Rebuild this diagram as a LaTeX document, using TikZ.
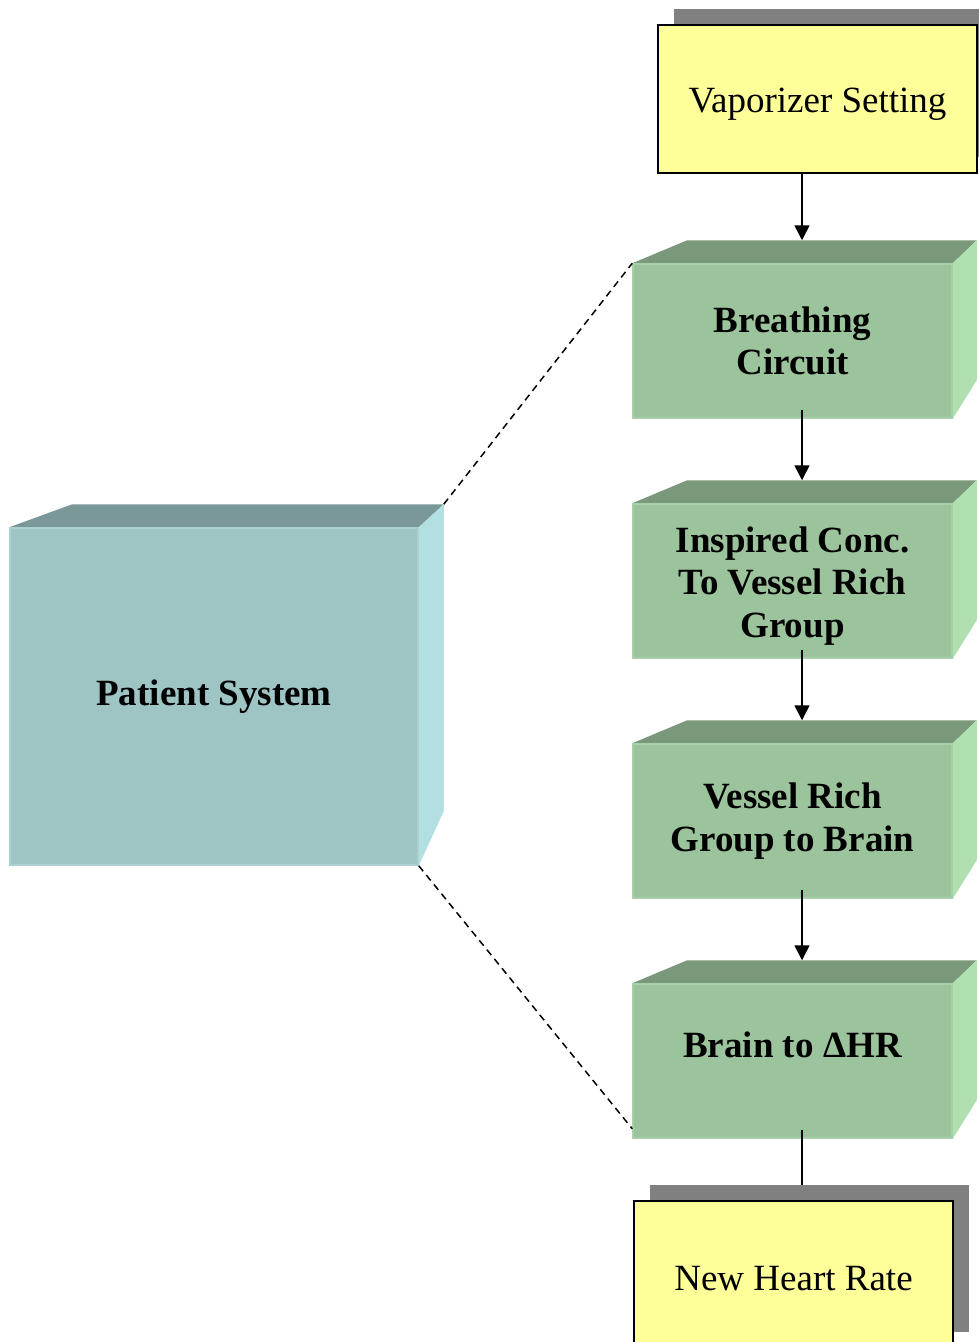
\documentclass[tikz,border=0pt]{standalone}
\usepackage{fontspec}
\setmainfont{Liberation Serif}
\usetikzlibrary{arrows.meta,shadows,backgrounds}
\definecolor{gfront}{RGB}{156,196,156}
\definecolor{gborder}{RGB}{168,208,168}
\definecolor{gtop}{RGB}{122,152,122}
\definecolor{gright}{RGB}{176,224,176}
\definecolor{pfront}{RGB}{158,196,196}
\definecolor{pborder}{RGB}{170,208,208}
\definecolor{ptop}{RGB}{122,152,152}
\definecolor{pright}{RGB}{178,224,226}
\definecolor{yel}{RGB}{255,255,153}
\definecolor{shadowgray}{RGB}{128,128,128}
\begin{document}
\begin{tikzpicture}[x=1pt,y=-1pt,
  gfrontbox/.style={rectangle, fill=gfront, draw=gborder, line width=1.5pt,
    minimum width=319pt, minimum height=154pt, inner sep=0pt, align=center,
    font=\bfseries\fontsize{37}{42.5}\selectfont},
  pfrontbox/.style={rectangle, fill=pfront, draw=pborder, line width=1.5pt,
    minimum width=408pt, minimum height=337pt, inner sep=0pt, align=center,
    font=\bfseries\fontsize{37}{42.5}\selectfont},
  ybox/.style={rectangle, fill=yel, draw=black, line width=1.5pt,
    minimum width=319pt, inner sep=0pt,
    general shadow={fill=shadowgray, shadow xshift=16pt, shadow yshift=16pt}},
  ytext/.style={align=center, inner sep=0pt, font=\fontsize{37}{42.5}\selectfont},
  btext/.style={align=center, inner sep=0pt, font=\bfseries\fontsize{37}{42.5}\selectfont},
  arr/.style={line width=1.5pt, -{Triangle[width=15pt,length=15pt]}},
  plainline/.style={line width=1.5pt},
  dashline/.style={line width=1.5pt, dash pattern=on 7pt off 5pt}
]
\useasboundingbox (0,0) rectangle (979,1342);

% Yellow box
\node[ybox, minimum height=148pt] (vap) at (817.5,99) {};
\node[ytext] (vaptext) at ([yshift=-5pt]vap.center) {Vaporizer Setting};

% Green boxes
\node[gfrontbox] (box1) at (792.5,341) {Breathing\\Circuit};
\node[gfrontbox] (box2) at (792.5,581) {};
\node[btext] (box2text) at ([yshift=-5pt]box2.center) {Inspired Conc.\\To Vessel Rich\\Group};
\node[gfrontbox] (box3) at (792.5,821) {Vessel Rich\\Group to Brain};
\node[gfrontbox] (box4) at (792.5,1061) {};
\node[btext] (box4text) at ([yshift=16pt]box4.center) {Brain to ΔHR};

% Patient box
\node[pfrontbox] (pat) at (214,696.5) {Patient System};

\begin{pgfonlayer}{background}
  \foreach \b in {box1,box2,box3,box4}{
    \fill[gtop] (\b.north west) -- ++(55,-23) -- ([shift={(24,-23)}]\b.north east) -- (\b.north east) -- cycle;
    \fill[gright] (\b.north east) -- ++(24,-23) -- ++(0,140) -- (\b.south east) -- cycle;
  }
  \fill[ptop] (pat.north west) -- ++(63,-23) -- ([shift={(25,-23)}]pat.north east) -- (pat.north east) -- cycle;
  \fill[pright] (pat.north east) -- ++(25,-23) -- ++(0,307) -- (pat.south east) -- cycle;
\end{pgfonlayer}

\coordinate (patback) at ([shift={(25,-23)}]pat.north east);

% Arrows
\draw[arr] ([xshift=-15.5pt]vap.south) -- ([xshift=9.5pt,yshift=23pt]box1.north);
\draw[arr] ([xshift=9.5pt,yshift=9pt]box1.south) -- ([xshift=9.5pt,yshift=23pt]box2.north);
\draw[arr] ([xshift=9.5pt,yshift=9pt]box2.south) -- ([xshift=9.5pt,yshift=23pt]box3.north);
\draw[arr] ([xshift=9.5pt,yshift=9pt]box3.south) -- ([xshift=9.5pt,yshift=23pt]box4.north);

% Bottom yellow box
\coordinate (nhrtop) at (802,1185);
\draw[plainline] ([xshift=9.5pt,yshift=9pt]box4.south) -- (nhrtop);
\node[ybox, minimum height=147pt] (nhr) at (793.5,1274.5) {};
\node[ytext] (nhrtext) at ([yshift=-4pt]nhr.center) {New Heart Rate};

% Dashed lines
\draw[dashline] (patback) -- (box1.north west);
\draw[dashline] (pat.south east) -- ([yshift=10pt]box4.south west);
\end{tikzpicture}
\end{document}
